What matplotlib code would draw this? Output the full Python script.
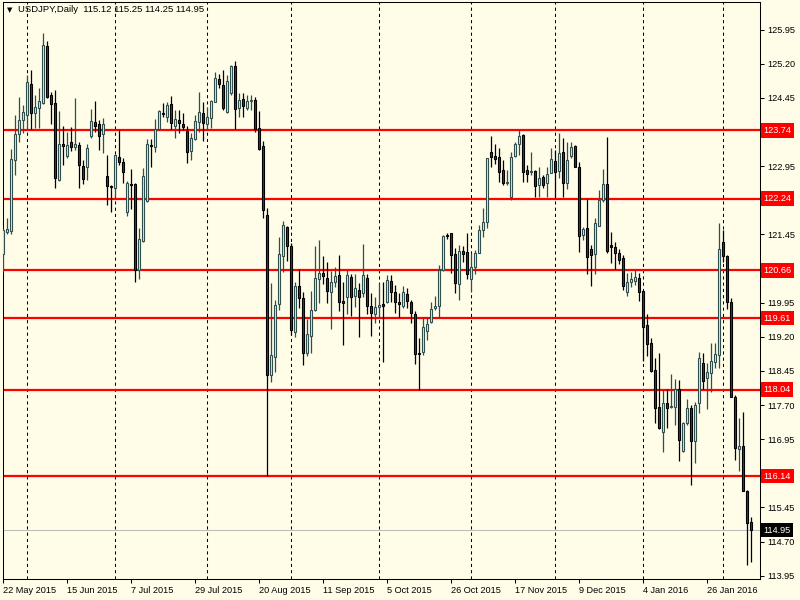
import matplotlib
matplotlib.use("Agg")
import matplotlib.pyplot as plt
import matplotlib.transforms as mtransforms
import numpy as np

# USDJPY daily candles
opens = [
    121.02, 121.50, 121.53, 123.09, 123.66, 123.97, 124.08, 124.76, 124.12, 124.23,
    124.34, 125.59, 124.52, 124.34, 122.65, 123.44, 123.17, 123.48, 123.37, 123.42,
    122.95, 122.93, 123.61, 123.92, 123.88, 123.66, 122.74, 122.52, 122.47, 123.15,
    123.04, 121.94, 122.56, 122.56, 120.67, 121.31, 122.19, 123.42, 123.37, 123.77,
    124.12, 124.03, 124.32, 123.83, 123.97, 123.88, 123.72, 123.28, 123.55, 123.92,
    124.12, 123.88, 124.01, 124.36, 124.87, 124.73, 124.14, 124.56, 125.15, 124.23,
    124.43, 124.23, 124.38, 124.41, 123.79, 123.39, 121.88, 118.36, 118.76, 119.92,
    120.98, 121.61, 121.20, 119.31, 120.32, 120.05, 118.85, 119.22, 119.79, 120.47,
    120.60, 120.49, 120.19, 120.40, 120.56, 119.99, 120.08, 120.52, 120.10, 120.23,
    120.16, 120.49, 119.88, 119.70, 119.85, 119.92, 119.97, 120.43, 120.19, 119.97,
    119.88, 120.14, 119.97, 119.70, 118.85, 118.87, 119.33, 119.53, 119.83, 119.88,
    120.67, 121.44, 121.48, 121.02, 120.36, 121.09, 121.07, 120.47, 120.74, 121.04,
    121.55, 121.72, 123.26, 123.17, 123.15, 122.87, 122.58, 122.27, 123.17, 123.44,
    123.64, 122.87, 122.82, 122.85, 122.54, 122.71, 122.58, 122.80, 123.06, 122.85,
    123.26, 122.58, 123.17, 123.39, 122.93, 121.44, 121.59, 121.13, 121.02, 121.64,
    122.21, 122.56, 121.22, 121.17, 121.04, 120.93, 120.19, 120.40, 120.43, 120.49,
    120.21, 119.46, 119.07, 118.47, 117.66, 117.11, 117.75, 117.66, 117.66, 118.05,
    116.69, 117.31, 117.64, 116.91, 117.75, 118.63, 118.30, 118.41, 118.65, 118.80,
    121.28, 120.98, 119.97, 117.88, 116.74, 116.80, 115.81, 115.12,
]
highs = [
    121.59, 121.81, 123.33, 124.08, 124.47, 124.30, 124.95, 125.07, 124.52, 124.67,
    125.88, 125.70, 124.58, 124.63, 124.16, 123.83, 123.70, 123.81, 124.45, 123.48,
    123.09, 123.44, 124.21, 124.38, 123.97, 124.01, 123.20, 122.54, 123.22, 123.75,
    123.13, 122.63, 122.89, 122.58, 121.59, 122.91, 123.55, 123.55, 123.99, 124.19,
    124.34, 124.36, 124.49, 124.19, 124.19, 124.12, 123.83, 123.68, 124.08, 124.58,
    124.36, 124.25, 124.41, 125.02, 124.98, 125.07, 124.95, 125.17, 125.26, 124.56,
    124.56, 124.52, 124.52, 124.47, 124.16, 123.50, 122.03, 120.38, 120.01, 121.39,
    121.75, 121.64, 121.26, 120.40, 120.69, 120.19, 119.59, 120.21, 121.20, 121.33,
    120.98, 120.85, 120.65, 120.74, 121.00, 120.40, 120.67, 120.58, 120.58, 120.38,
    121.24, 120.58, 120.16, 120.08, 120.38, 120.40, 120.56, 120.56, 120.34, 120.16,
    120.32, 120.27, 120.01, 119.77, 119.17, 119.64, 119.64, 119.97, 120.10, 120.78,
    121.44, 121.48, 121.48, 121.15, 121.22, 121.20, 121.48, 121.04, 121.11, 121.66,
    122.03, 123.13, 123.61, 123.44, 123.35, 123.09, 122.87, 123.26, 123.48, 123.75,
    123.66, 122.98, 123.26, 122.87, 122.93, 122.76, 122.93, 123.35, 123.31, 123.68,
    123.57, 123.48, 123.48, 123.42, 123.04, 121.61, 122.23, 121.22, 121.81, 122.43,
    122.89, 123.59, 121.50, 121.28, 121.13, 121.00, 120.60, 120.63, 120.67, 120.60,
    120.23, 119.70, 119.17, 118.74, 118.85, 118.03, 118.05, 118.38, 118.27, 118.25,
    117.33, 117.84, 117.70, 117.77, 118.87, 118.85, 118.63, 119.07, 119.07, 121.70,
    121.55, 121.00, 120.05, 117.92, 117.42, 117.55, 115.83, 115.25,
]
lows = [
    120.63, 121.46, 121.46, 122.76, 123.48, 123.68, 123.77, 123.77, 123.79, 123.79,
    124.32, 124.45, 123.88, 122.47, 122.63, 122.98, 123.13, 123.28, 123.31, 122.47,
    122.56, 122.65, 123.57, 123.70, 123.31, 123.24, 122.10, 121.94, 122.27, 122.98,
    122.58, 121.86, 122.01, 120.40, 120.47, 121.29, 122.16, 122.93, 123.26, 123.75,
    124.03, 123.92, 123.77, 123.57, 123.68, 123.75, 123.02, 123.09, 123.53, 123.70,
    123.50, 123.75, 123.79, 124.36, 124.67, 124.19, 124.12, 124.52, 123.77, 124.03,
    124.03, 124.19, 124.19, 123.70, 123.31, 121.81, 116.14, 118.21, 118.43, 119.79,
    120.63, 120.87, 119.24, 119.20, 119.83, 118.58, 118.78, 118.85, 119.77, 119.94,
    120.36, 119.94, 119.37, 120.30, 119.77, 119.02, 119.70, 119.66, 119.86, 119.20,
    120.08, 119.70, 119.22, 119.50, 119.61, 118.65, 119.94, 119.97, 119.72, 119.64,
    119.83, 119.83, 119.50, 118.60, 118.03, 118.80, 119.13, 119.50, 119.79, 119.61,
    120.65, 121.35, 120.60, 120.16, 120.01, 120.85, 120.47, 120.19, 120.58, 121.04,
    121.39, 121.59, 122.93, 123.00, 122.60, 122.54, 122.54, 122.21, 123.15, 123.20,
    122.60, 122.60, 122.76, 122.27, 122.27, 122.47, 122.27, 122.80, 122.27, 122.69,
    122.27, 122.45, 123.13, 122.93, 121.06, 121.33, 120.58, 120.32, 120.58, 121.64,
    122.16, 121.04, 120.82, 120.69, 120.80, 120.23, 120.10, 120.30, 120.34, 119.99,
    118.67, 118.78, 118.43, 117.31, 117.18, 116.67, 117.20, 117.64, 117.26, 116.47,
    116.67, 117.26, 115.94, 116.43, 117.53, 118.05, 117.61, 117.99, 118.52, 118.52,
    120.85, 119.81, 117.88, 116.49, 116.25, 115.81, 114.19, 114.25,
]
closes = [
    121.55, 121.57, 123.11, 123.66, 123.97, 124.14, 124.80, 124.12, 124.25, 124.38,
    125.61, 124.47, 124.32, 122.69, 123.44, 123.39, 123.42, 123.37, 123.44, 122.98,
    122.67, 123.35, 123.94, 123.83, 123.61, 123.88, 122.52, 122.49, 123.20, 123.04,
    122.82, 122.58, 122.54, 120.67, 121.35, 122.74, 123.44, 123.39, 123.77, 124.16,
    124.10, 124.30, 123.90, 123.99, 123.90, 123.81, 123.26, 123.57, 123.94, 124.14,
    123.90, 124.03, 124.38, 124.89, 124.76, 124.23, 124.82, 125.15, 124.21, 124.41,
    124.27, 124.38, 124.41, 123.77, 123.33, 121.99, 118.36, 118.80, 119.90, 121.02,
    121.66, 121.20, 119.35, 120.32, 120.05, 118.85, 119.26, 119.79, 120.49, 120.60,
    120.54, 120.21, 120.40, 120.54, 119.97, 119.94, 120.56, 120.08, 120.27, 120.08,
    120.56, 119.88, 119.72, 119.85, 119.90, 119.88, 120.45, 120.19, 119.97, 119.92,
    120.19, 119.99, 119.72, 118.82, 118.82, 119.42, 119.48, 119.81, 119.88, 120.67,
    121.42, 121.42, 121.00, 120.38, 121.09, 121.02, 120.58, 120.74, 121.04, 121.55,
    121.72, 123.13, 123.15, 123.11, 122.82, 122.58, 122.60, 123.15, 123.44, 123.61,
    122.82, 122.78, 122.85, 122.52, 122.69, 122.54, 122.78, 123.11, 122.82, 123.24,
    122.58, 123.09, 123.37, 122.93, 121.42, 121.57, 120.95, 121.00, 121.70, 122.21,
    122.56, 121.09, 121.17, 121.04, 120.89, 120.32, 120.40, 120.47, 120.52, 120.19,
    119.42, 119.04, 118.45, 117.64, 117.20, 117.75, 117.64, 117.68, 118.05, 116.93,
    117.31, 117.64, 116.91, 117.70, 118.74, 118.23, 118.43, 118.67, 118.82, 121.13,
    120.98, 119.97, 117.88, 116.76, 116.80, 115.81, 115.11, 114.95,
]

levels = [123.74, 122.24, 120.66, 119.61, 118.04, 116.14]
last_price = 114.95
date_labels = ["22 May 2015", "15 Jun 2015", "7 Jul 2015", "29 Jul 2015",
               "20 Aug 2015", "11 Sep 2015", "5 Oct 2015", "26 Oct 2015",
               "17 Nov 2015", "9 Dec 2015", "4 Jan 2016", "26 Jan 2016"]
month_start_bars = [6, 28, 51, 72, 94, 117, 138, 160, 180]
header = "USDJPY,Daily  115.12 115.25 114.25 114.95"

# colours
bg = "#FFFCE8"
bull_fill = "#F2F0B6"
bull_edge = "#2F4F4F"
bear_fill = "#404040"
bear_edge = "#000000"

o = np.array(opens)
h = np.array(highs)
l = np.array(lows)
c = np.array(closes)
x = np.arange(len(o))
up = c >= o

plt.rcParams["font.family"] = ["Liberation Sans", "DejaVu Sans"]

fig = plt.figure(figsize=(8, 6), dpi=100, facecolor=bg)
ax = fig.add_axes([3 / 800, 21 / 600, 757 / 800, 577 / 600])
ax.set_facecolor(bg)

# month separators
for b in month_start_bars:
    ax.axvline(b, color="black", linestyle=(0, (3, 3)), linewidth=0.75, zorder=1)

# support / resistance lines
for lv in levels:
    ax.axhline(lv, color="#FF0000", linewidth=1.6, zorder=2)
ax.axhline(last_price, color="#BDBDBD", linewidth=0.75, zorder=1.5)

# candles
ax.vlines(x[up], l[up], h[up], color=bull_edge, linewidth=0.9, zorder=3)
ax.vlines(x[~up], l[~up], h[~up], color=bear_edge, linewidth=0.9, zorder=3)
ax.bar(x[up], (c - o)[up], bottom=o[up], width=0.55, color=bull_fill,
       edgecolor=bull_edge, linewidth=0.8, zorder=4)
ax.bar(x[~up], (o - c)[~up], bottom=c[~up], width=0.55, color=bear_fill,
       edgecolor=bear_edge, linewidth=0.8, zorder=4)

ax.set_xlim(-0.1, 189.2)
ax.set_ylim(113.878, 126.559)

# price axis on the right; labels hidden behind the level tags are left blank
ax.yaxis.tick_right()
yt = np.arange(113.95, 126.0, 0.75)
tags = levels + [last_price]
ax.set_yticks(yt)
ax.set_yticklabels(["" if min(abs(v - t) for t in tags) < 0.2 else f"{v:.2f}"
                    for v in yt])
ax.tick_params(axis="y", direction="out", length=3, width=0.75, pad=2,
               labelsize=6.6, colors="black")

# date axis
ax.set_xticks(np.arange(len(date_labels)) * 16)
ax.set_xticklabels(date_labels)
for t in ax.get_xticklabels():
    t.set_horizontalalignment("left")
ax.tick_params(axis="x", direction="out", length=3, width=0.75, pad=2,
               labelsize=6.6, colors="black")

for s in ax.spines.values():
    s.set_color("black")
    s.set_linewidth(0.75)

# level tags on the price axis
trans = mtransforms.blended_transform_factory(ax.transAxes, ax.transData)
for lv in levels:
    ax.text(1.0045, lv, f"{lv:.2f}", transform=trans, ha="left", va="center",
            fontsize=6.6, color="white", clip_on=False, zorder=10,
            bbox=dict(boxstyle="square,pad=0.3", fc="#FF0000", ec="none"))
ax.text(1.0045, last_price, f"{last_price:.2f}", transform=trans, ha="left",
        va="center", fontsize=6.6, color="white", clip_on=False, zorder=10,
        bbox=dict(boxstyle="square,pad=0.3", fc="black", ec="none"))

# header
fig.text(7 / 800, 1 - 10 / 600, "\u25BC", fontsize=5, va="center", ha="left",
         family="DejaVu Sans")
fig.text(18 / 800, 1 - 10 / 600, header, fontsize=6.8, va="center", ha="left")

fig.savefig("out.png", dpi=100, facecolor=bg)
